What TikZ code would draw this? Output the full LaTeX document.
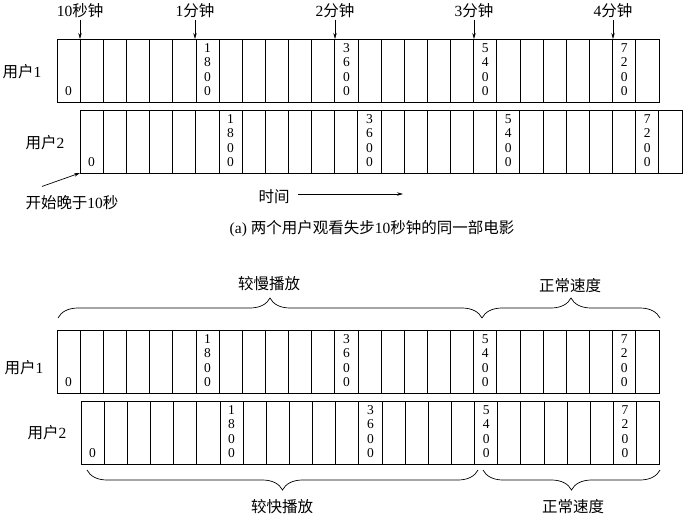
\documentclass[tikz,border=0pt]{standalone}
\usepackage{fontspec}
\setmainfont{Liberation Serif}
\newfontfamily\cjk{Noto Sans CJK SC}
\usetikzlibrary{arrows.meta,decorations.pathreplacing}
\newcommand{\zh}[1]{{\cjk #1}}
% one strip of frames: name, x0, top, last inner line, cell/value list
\newcommand{\framestrip}[5]{%
  \draw (#2,#3) rectangle ++({(#4+1)*23.15},63);
  \foreach \i in {1,...,#4} \draw ({#2+\i*23.15},#3) -- ++(0,63);
  \foreach \c/\v in {#5} \node[num] (#1-\c) at ({#2+(\c+0.5)*23.15},#3+57) {\v};
}
\tikzset{
  lbl/.style={font=\fontsize{15.5}{18}\selectfont, inner sep=1pt},
  num/.style={font=\fontsize{13.5}{14.3}\selectfont, align=center, inner sep=0pt, anchor=south},
  tick/.style={-{Stealth[length=6pt,width=3.5pt]}, line width=0.7pt},
  curly/.style={decorate, decoration={brace, amplitude=20pt}, line width=0.7pt},
}
\begin{document}
\begin{tikzpicture}[x=1pt,y=-1pt,line width=0.8pt]
\useasboundingbox (0,0) rectangle (686,517);
% (a) ten seconds apart
\framestrip{ua}{57}{39}{25}{0/0, 6/{1\\8\\0\\0}, 12/{3\\6\\0\\0}, 18/{5\\4\\0\\0}, 24/{7\\2\\0\\0}}
\framestrip{va}{80}{110}{25}{0/0, 6/{1\\8\\0\\0}, 12/{3\\6\\0\\0}, 18/{5\\4\\0\\0}, 24/{7\\2\\0\\0}}
\node[lbl] (ua-name) at (22,72) {\zh{用户}1};
\node[lbl] (va-name) at (45,143) {\zh{用户}2};
\foreach \x/\t [count=\k] in {80/{10\zh{秒钟}}, 195/{1\zh{分钟}}, 335/{2\zh{分钟}}, 474/{3\zh{分钟}}, 613/{4\zh{分钟}}}{
  \node[lbl] (mark\k) at (\x,11) {\t};
  \coordinate (mark\k-end) at (\x,39);
  \draw[tick] (mark\k) -- (mark\k-end);
}
\coordinate (va-start) at (80,173);
\node[lbl] (late) at (72,203) {\zh{开始晚于}10\zh{秒}};
\draw[tick] ([xshift=-30pt,yshift=8pt]late.north) -- (va-start);
\node[lbl] (time) at (274,197) {\zh{时间}};
\coordinate (time-end) at (403,194);
\draw[tick] (time) ++(24,-3) -- (time-end);
\node[lbl] (capa) at (372,229) {(a) \zh{两个用户观看失步}10\zh{秒钟的同一部电影}};
% (b) catching up
\framestrip{ub}{57}{330}{25}{0/0, 6/{1\\8\\0\\0}, 12/{3\\6\\0\\0}, 18/{5\\4\\0\\0}, 24/{7\\2\\0\\0}}
\framestrip{vb}{81}{401}{24}{0/0, 6/{1\\8\\0\\0}, 12/{3\\6\\0\\0}, 17/{5\\4\\0\\0}, 23/{7\\2\\0\\0}}
\node[lbl] (ub-name) at (24,368) {\zh{用户}1};
\node[lbl] (vb-name) at (47,433) {\zh{用户}2};
\draw[curly] (58,318) -- (482,318);
\draw[curly] (482,318) -- (660,318);
\node[lbl] (slow) at (269,284) {\zh{较慢播放}};
\node[lbl] (norm1) at (570,286) {\zh{正常速度}};
\draw[curly] (478,470) -- (87,470);
\draw[curly] (660,470) -- (483,470);
\node[lbl] (fast) at (282,507) {\zh{较快播放}};
\node[lbl] (norm2) at (573,507) {\zh{正常速度}};
\end{tikzpicture}
\end{document}
